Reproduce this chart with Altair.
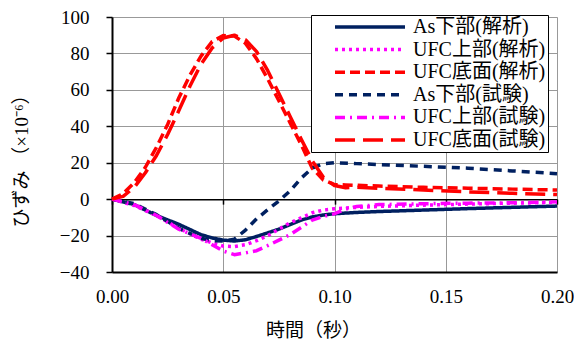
import altair as alt
import pandas as pd

series_names = ["As下部(解析)", "UFC上部(解析)", "UFC底面(解析)",
                "As下部(試験)", "UFC上部(試験)", "UFC底面(試験)"]
series_colors = ["#002060", "#FF00FF", "#FF0000", "#002060", "#FF00FF", "#FF0000"]
series_dash = [[1, 0], [3, 4], [10, 5], [8, 6], [10, 5, 2, 5], [20, 8]]
series_width = [3.5, 3.5, 4, 2.2, 2.5, 2.5]

x_ticks = [0.0, 0.05, 0.10, 0.15, 0.20]
y_ticks = [-40, -20, 0, 20, 40, 60, 80, 100]

# As下部(解析)
t_as_a = [0, 0.01, 0.02, 0.03, 0.04, 0.045, 0.05, 0.055, 0.06, 0.065, 0.07, 0.075,
          0.08, 0.085, 0.09, 0.095, 0.10, 0.11, 0.12, 0.14, 0.16, 0.18, 0.20]
v_as_a = [0, -3, -9, -13.8, -19.5, -21.3, -22.5, -23, -22.3, -20.5, -18.5, -16.5,
          -14, -11.5, -9.8, -8.7, -8, -7.3, -6.8, -6, -5.2, -4.5, -3.8]

# UFC上部(解析)
t_ufcu_a = [0, 0.01, 0.02, 0.03, 0.035, 0.04, 0.045, 0.05, 0.055, 0.06, 0.065, 0.07,
            0.075, 0.08, 0.085, 0.09, 0.095, 0.10, 0.11, 0.12, 0.14, 0.16, 0.18, 0.20]
v_ufcu_a = [0, -3.5, -9, -16, -19, -22, -24, -25.8, -26, -25, -22.8, -20,
            -16.5, -13, -10.3, -7.5, -6, -5.3, -4.5, -4, -3.3, -2.7, -2.2, -1.8]

# UFC底面(解析)
t_ufcb_a = [0, 0.005, 0.01, 0.015, 0.02, 0.025, 0.03, 0.035, 0.04, 0.045, 0.05, 0.055,
            0.06, 0.065, 0.07, 0.075, 0.08, 0.085, 0.09, 0.095, 0.10, 0.105, 0.11,
            0.12, 0.14, 0.16, 0.18, 0.20]
v_ufcb_a = [0, 3, 9, 17.5, 28.5, 41, 55.5, 68, 78.5, 86.5, 89.8, 89.5,
            85.5, 77, 66, 54, 42, 30, 17, 10.5, 8, 7.8, 7.6,
            7.2, 6.5, 6, 5.5, 5]

# As下部(試験)
t_as_t = [0, 0.01, 0.02, 0.03, 0.04, 0.045, 0.05, 0.055, 0.06, 0.065, 0.07, 0.075,
          0.08, 0.085, 0.09, 0.095, 0.10, 0.11, 0.12, 0.14, 0.16, 0.18, 0.20]
v_as_t = [0, -2.5, -8.5, -16, -21.5, -22.8, -23, -22, -17, -10.8, -5.8, -1,
          4.5, 11.5, 17, 19.5, 20, 19.5, 19, 18, 17, 15.5, 14]

# UFC上部(試験)
t_ufcu_t = [0, 0.01, 0.02, 0.03, 0.04, 0.045, 0.05, 0.055, 0.06, 0.065, 0.07, 0.075,
            0.08, 0.085, 0.09, 0.095, 0.10, 0.105, 0.11, 0.12, 0.14, 0.16, 0.18, 0.20]
v_ufcu_t = [0, -3, -9, -16.5, -21.5, -25, -28.5, -30.5, -29.5, -28.3, -25.5, -22.5,
            -19.5, -15.5, -11.5, -9.5, -8, -5.5, -4, -3, -2.5, -2.2, -2, -1.5]

# UFC底面(試験)
t_ufcb_t = [0, 0.005, 0.01, 0.015, 0.02, 0.025, 0.03, 0.035, 0.04, 0.045, 0.05, 0.055,
            0.06, 0.065, 0.07, 0.075, 0.08, 0.085, 0.09, 0.095, 0.10, 0.105, 0.11,
            0.12, 0.14, 0.16, 0.18, 0.20]
v_ufcb_t = [0, 1.5, 6.5, 14.5, 24, 35.5, 48.5, 62, 74, 83, 88.5, 90,
            87.5, 81, 70.5, 58, 45.5, 33, 21, 12, 7.5, 6.3, 6.5,
            6, 5, 4, 3.2, 2.5]

all_t = [t_as_a, t_ufcu_a, t_ufcb_a, t_as_t, t_ufcu_t, t_ufcb_t]
all_v = [v_as_a, v_ufcu_a, v_ufcb_a, v_as_t, v_ufcu_t, v_ufcb_t]

rows = []
for i, name in enumerate(series_names):
    for t, v in zip(all_t[i], all_v[i]):
        rows.append({"series": name, "order": i, "t": t, "v": v})
df = pd.DataFrame(rows)

SERIF = "Liberation Serif, Times New Roman, Noto Sans CJK JP"
W, H = 445, 255
zero_offset = -H * 40 / 140

legend = alt.Legend(
    title=None, orient="none", legendX=199, legendY=-2,
    direction="vertical",
    fillColor="white", strokeColor="black", padding=2,
    symbolType="stroke", symbolSize=4900, symbolOffset=20, clipHeight=20,
    labelFont=SERIF, labelFontSize=20, labelColor="black",
    labelOffset=6, rowPadding=2.6, labelLimit=300,
    labelExpr="datum.label + '\u00a0\u00a0\u00a0\u00a0'",
)

x_enc = alt.X("t:Q", scale=alt.Scale(domain=[0, 0.2], nice=False),
              axis=alt.Axis(values=x_ticks, format=".2f", title="時間（秒）",
                            labelFont=SERIF, labelFontSize=19, labelColor="black",
                            labelPadding=15, ticks=False, labelFlush=False,
                            titleFont=SERIF, titleFontSize=19, titleColor="black",
                            titleFontWeight="normal", titlePadding=15, titleX=201,
                            domainColor="black", domainWidth=2,
                            grid=True, gridColor="#999999", gridWidth=1))
y_enc = alt.Y("v:Q", scale=alt.Scale(domain=[-40, 100], nice=False),
              axis=alt.Axis(values=y_ticks, title="ひずみ （×10⁻⁶）",
                            labelFont=SERIF, labelFontSize=19, labelColor="black",
                            labelPadding=17, tickSize=6, tickColor="black", tickWidth=1.5,
                            titleFont=SERIF, titleFontSize=19, titleColor="black",
                            titleFontWeight="normal", titlePadding=28, titleY=139,
                            domainColor="black", domainWidth=2,
                            grid=True, gridColor="#999999", gridWidth=1))

lines = alt.Chart(df).mark_line(strokeCap="butt", strokeJoin="round").encode(
    x=x_enc,
    y=y_enc,
    color=alt.Color("series:N", scale=alt.Scale(domain=series_names, range=series_colors),
                    legend=legend),
    strokeDash=alt.StrokeDash("series:N", scale=alt.Scale(domain=series_names, range=series_dash),
                              legend=legend),
    strokeWidth=alt.StrokeWidth("series:N", scale=alt.Scale(domain=series_names, range=series_width),
                                legend=legend),
    detail="series:N",
)

zero_axis = alt.Chart(pd.DataFrame({"v": [0], "t": [0]})).mark_rule(
    color="black", strokeWidth=1.5
).encode(
    y=y_enc,
    x=alt.X("t:Q", scale=alt.Scale(domain=[0, 0.2], nice=False),
            axis=alt.Axis(orient="bottom", offset=zero_offset, values=x_ticks,
                          labels=False, title=None, grid=False,
                          ticks=True, tickSize=5, tickColor="black", tickWidth=1.5,
                          domainColor="black", domainWidth=1.5)),
)

chart = alt.layer(lines, zero_axis).resolve_axis(x="independent").resolve_scale(
    x="shared", y="shared"
).properties(
    width=W, height=H,
    padding={"left": 4, "top": 0, "right": 0, "bottom": 0},
).configure_view(stroke="black", strokeWidth=2).configure_legend(
    strokeWidth=2
).configure(background="white")

chart.save("out.html", embed_options={"renderer": "svg", "actions": False})
